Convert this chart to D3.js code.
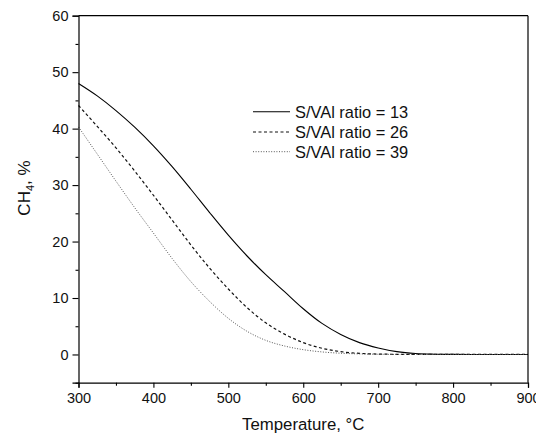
<!DOCTYPE html>
<html>
<head>
<meta charset="utf-8">
<script src="https://cdn.jsdelivr.net/npm/d3@7"></script>
<style>
  html, body { margin: 0; padding: 0; background: #fff; }
  svg { display: block; font-family: Arial, "Liberation Sans", sans-serif; }
</style>
</head>
<body>
<svg id="chart" width="536" height="435"></svg>
<script>
// ---- data ----
const temps13 = [300, 325, 350, 375, 400, 425, 450, 475, 500, 525, 550, 575, 600, 625, 650, 675, 700, 725, 750, 775, 800, 850, 900];
const ch4_13  = [48.0, 45.8, 43.2, 40.26, 36.95, 33.26, 29.26, 25.13, 21.13, 17.44, 14.13, 11.13, 8.1, 5.5, 3.55, 2.1, 1.15, 0.5, 0.17, 0.05, 0.01, 0, 0];

const temps26 = [300, 325, 350, 375, 400, 425, 450, 475, 500, 525, 550, 575, 600, 625, 650, 675, 700, 750, 800, 850, 900];
const ch4_26  = [44.1, 40.4, 36.6, 32.5, 28.2, 23.8, 19.4, 15.3, 11.6, 8.3, 5.6, 3.6, 2.1, 1.1, 0.5, 0.2, 0.07, 0.01, 0, 0, 0];

const temps39 = [300, 325, 350, 375, 400, 425, 450, 475, 500, 525, 550, 575, 600, 625, 650, 675, 700, 750, 800, 850, 900];
const ch4_39  = [40.3, 35.5, 30.7, 26.0, 21.5, 17.0, 12.9, 9.4, 6.4, 4.1, 2.5, 1.5, 0.85, 0.45, 0.22, 0.1, 0.04, 0, 0, 0, 0];

const seriesNames = ["S/VAl ratio = 13", "S/VAl ratio = 26", "S/VAl ratio = 39"];
const xTicks = [300, 400, 500, 600, 700, 800, 900];
const xMinor = [350, 450, 550, 650, 750, 850];
const yTicks = [0, 10, 20, 30, 40, 50, 60];
const yMinor = [-5, 5, 15, 25, 35, 45, 55];

// ---- layout ----
const svg = d3.select("#chart");
const margin = {left: 78.5, right: 8, top: 15.7, bottom: 52.3};
const W = 536, H = 435;
const x = d3.scaleLinear().domain([300, 900]).range([margin.left, W - margin.right]);
const y = d3.scaleLinear().domain([-5, 60]).range([H - margin.bottom, margin.top]);

const series = [
  {name: seriesNames[0], t: temps13, v: ch4_13, stroke: "#000", dash: null, width: 1.1},
  {name: seriesNames[1], t: temps26, v: ch4_26, stroke: "#111", dash: "3,2.5", width: 1.2},
  {name: seriesNames[2], t: temps39, v: ch4_39, stroke: "#555", dash: "1,1.6", width: 1.0}
];

const line = d3.line().x(d => x(d[0])).y(d => y(d[1])).curve(d3.curveMonotoneX);

// curves
series.forEach(s => {
  const pts = s.t.map((t, i) => [t, s.v[i]]);
  svg.append("path")
    .attr("d", line(pts))
    .attr("fill", "none")
    .attr("stroke", s.stroke)
    .attr("stroke-width", s.width)
    .attr("stroke-dasharray", s.dash);
});

// frame (top & right)
svg.append("line").attr("x1", x(300)).attr("x2", x(900)).attr("y1", y(60)).attr("y2", y(60))
  .attr("stroke", "#000").attr("stroke-width", 1.2);
svg.append("line").attr("x1", x(900)).attr("x2", x(900)).attr("y1", y(60)).attr("y2", y(-5))
  .attr("stroke", "#000").attr("stroke-width", 1.2);

// axes
const xAxis = d3.axisBottom(x).tickValues(xTicks).tickSize(5).tickPadding(5).tickFormat(d3.format("d"));
const gx = svg.append("g").attr("transform", `translate(0,${y(-5)})`).call(xAxis);
const gxMinor = svg.append("g").attr("transform", `translate(0,${y(-5)})`)
  .call(d3.axisBottom(x).tickValues(xMinor).tickSize(3).tickFormat(""));
gxMinor.select(".domain").remove();

const yAxis = d3.axisLeft(y).tickValues(yTicks).tickSize(6).tickPadding(4);
const gy = svg.append("g").attr("transform", `translate(${x(300)},0)`).call(yAxis);
const gyMinor = svg.append("g").attr("transform", `translate(${x(300)},0)`)
  .call(d3.axisLeft(y).tickValues(yMinor).tickSize(3).tickFormat(""));
gyMinor.select(".domain").remove();

[gx, gy].forEach(g => {
  g.select(".domain").attr("stroke-width", 1.2).attr("stroke", "#000");
  g.selectAll(".tick line").attr("stroke", "#000").attr("stroke-width", 1.1);
  g.selectAll(".tick text").attr("font-size", 14.5).attr("fill", "#111")
    .attr("font-family", "Arial, 'Liberation Sans', sans-serif");
});
[gxMinor, gyMinor].forEach(g => g.selectAll(".tick line").attr("stroke", "#000").attr("stroke-width", 1.1));

// axis titles
svg.append("text")
  .attr("x", (x(300) + x(900)) / 2).attr("y", 430)
  .attr("text-anchor", "middle").attr("font-size", 16.8).attr("fill", "#111")
  .text("Temperature, °C");

const yt = svg.append("text")
  .attr("transform", `translate(30,188) rotate(-90)`)
  .attr("text-anchor", "middle").attr("font-size", 17).attr("fill", "#111");
yt.append("tspan").text("CH");
yt.append("tspan").attr("font-size", 11).attr("dy", 4).text("4");
yt.append("tspan").attr("dy", -4).text(", %");

// legend
const legY = [111.7, 132, 151.7];
series.forEach((s, i) => {
  svg.append("line")
    .attr("x1", 253).attr("x2", 290).attr("y1", legY[i]).attr("y2", legY[i])
    .attr("stroke", s.stroke).attr("stroke-width", s.width).attr("stroke-dasharray", s.dash);
  svg.append("text")
    .attr("x", 295).attr("y", legY[i] + 5.8)
    .attr("font-size", 16.4).attr("fill", "#111")
    .text(s.name);
});
</script>
</body>
</html>
